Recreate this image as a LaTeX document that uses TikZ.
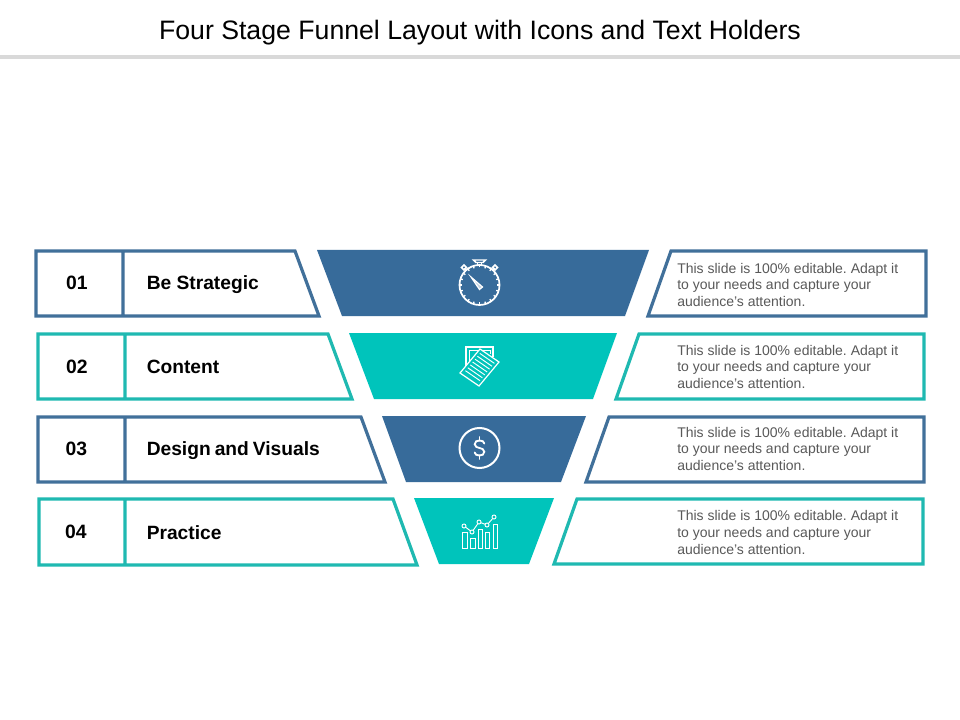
\documentclass[tikz,border=0pt]{standalone}
\usepackage{fontspec}
\setmainfont{Liberation Sans}
\usetikzlibrary{calc}
\definecolor{bluefill}{HTML}{376B9A}
\definecolor{blueline}{HTML}{41709A}
\definecolor{tealfill}{HTML}{00C4BB}
\definecolor{tealline}{HTML}{1FB9B1}
\definecolor{bodygrey}{HTML}{595959}
\definecolor{rulegrey}{HTML}{D9D9D9}
\tikzset{
  outline/.style={draw=#1,line width=2.4pt,fill=white,line join=miter},
  funnelpart/.style={fill=#1,draw=none},
  numlabel/.style={font=\fontsize{14.5pt}{16pt}\selectfont\bfseries,text=black,inner sep=0pt,anchor=base},
  namelabel/.style={font=\fontsize{14.4pt}{16pt}\selectfont\bfseries,text=black,inner sep=0pt,anchor=base west},
  bodytext/.style={font=\fontsize{10.5pt}{12.4pt}\selectfont,text=bodygrey,inner sep=0pt,anchor=west,align=left},
  icon/.style={draw=white,line width=#1,fill=none},
  icon/.default=0.9pt
}
\newcommand{\bodycopy}{\frenchspacing This slide is 100\% editable. Adapt it\\to your needs and capture your\\audience's attention.}
\begin{document}
\begin{tikzpicture}[x=0.75pt,y=-0.75pt]
\useasboundingbox (0,0) rectangle (960,720);
\fill[white] (0,0) rectangle (960,720);
\node[font=\fontsize{20pt}{24pt}\selectfont,text=black,inner sep=0pt,anchor=base] (title) at (480,39.3) {Four Stage Funnel Layout with Icons and Text Holders};
\fill[rulegrey] (0,55) rectangle (960,59);

% left holders
\draw[outline=blueline] (36,251) -- (295,251) -- (319,316) -- (36,316) -- cycle (123,251) -- (123,316);
\draw[outline=tealline] (38,334) -- (328,334) -- (352,399) -- (38,399) -- cycle (125,334) -- (125,399);
\draw[outline=blueline] (38,417) -- (361,417) -- (385,482) -- (38,482) -- cycle (125,417) -- (125,482);
\draw[outline=tealline] (39,499) -- (393,499) -- (417,565) -- (39,565) -- cycle (125,499) -- (125,565);

% funnel
\fill[funnelpart=bluefill] (317,250) -- (649,250) -- (625,316) -- (342,316) -- cycle;
\fill[funnelpart=tealfill] (349,333) -- (617,333) -- (593,399) -- (374,399) -- cycle;
\fill[funnelpart=bluefill] (382,416) -- (586,416) -- (561,482) -- (406,482) -- cycle;
\fill[funnelpart=tealfill] (414,498) -- (554,498) -- (529,564) -- (439,564) -- cycle;

% right holders
\draw[outline=blueline] (671,251) -- (926,251) -- (926,316) -- (648,316) -- cycle;
\draw[outline=tealline] (639,334) -- (924,334) -- (924,399) -- (616,399) -- cycle;
\draw[outline=blueline] (609,417) -- (924,417) -- (924,482) -- (586,482) -- cycle;
\draw[outline=tealline] (577,499) -- (923,499) -- (923,564) -- (554,564) -- cycle;

% labels
\node[numlabel] (n1) at (77,290) {01};
\node[numlabel] (n2) at (77,373) {02};
\node[numlabel] (n3) at (76.5,455) {03};
\node[numlabel] (n4) at (76,538.7) {04};
\node[namelabel] (l1) at (146.5,290) {Be Strategic};
\node[namelabel] (l2) at (146.5,373) {Content};
\node[namelabel] (l3) at (146.5,455.3) {\spaceskip=3pt Design and Visuals};
\node[namelabel] (l4) at (146.5,539.3) {Practice};
\node[bodytext] (t1) at (677,284.8) {\bodycopy};
\node[bodytext] (t2) at (677,366.8) {\bodycopy};
\node[bodytext] (t3) at (677,448.8) {\bodycopy};
\node[bodytext] (t4) at (677,532.5) {\bodycopy};

% stopwatch icon
\begin{scope}[shift={(479.5,285)}]
  \draw[icon=1.3pt] (0,0) circle (20);
  \foreach \a in {0,18,...,342} \draw[icon=1pt] (\a:17.5) -- (\a:20);
  \draw[icon=0.9pt,fill=white!70!bluefill] (-8.5,-8) -- (3,2) -- (0,4.5) -- cycle;
  \draw[icon=1.2pt] (-2,-20) -- (-2,-23) (2,-20) -- (2,-23);
  \draw[icon=1.1pt] (-6,-25) -- (6,-25) -- (3.5,-22.5) -- (-3.5,-22.5) -- cycle;
  \draw[icon=1.2pt] (-13,-15) -- (-15,-17) (13,-15) -- (15,-17);
  \draw[icon=1.1pt] (-18,-17.5) -- (-15.5,-20) -- (-13,-17.5) -- (-15.5,-15) -- cycle;
  \draw[icon=1.1pt] (18,-17.5) -- (15.5,-20) -- (13,-17.5) -- (15.5,-15) -- cycle;
\end{scope}

% document icon
\draw[icon=0.9pt] (466,370) -- (466,347) -- (493,347) -- (493,357);
\draw[icon=0.6pt] (469,362) -- (469,350) -- (490,350) -- (490,354);
\coordinate (da) at (480,349);
\coordinate (db) at (499,362);
\coordinate (dc) at (479,386);
\coordinate (dd) at (460,373);
\draw[icon=0.9pt,fill=tealfill] (da) -- (db) -- (dc) -- (dd) -- cycle;
\foreach \t in {0.12,0.24,...,0.9}
  \draw[icon=0.7pt] ($(da)!\t!(dd)+(2.2,1.5)$) -- ($(db)!\t!(dc)+(-2.2,-1.5)$);

% dollar icon
\begin{scope}[shift={(479.5,448)}]
  \draw[icon=1.5pt] (0,0) circle (20);
  \draw[icon=1.4pt,line cap=round] (4.8,-4.5) .. controls (4.8,-6.5) and (2.5,-7.5) .. (0,-7.5) .. controls (-2.5,-7.5) and (-4.8,-6.5) .. (-4.8,-3.8) .. controls (-4.8,-1) and (-2,-0.5) .. (0,0) .. controls (2,0.5) and (4.8,1) .. (4.8,3.8) .. controls (4.8,6.5) and (2.5,7.5) .. (0,7.5) .. controls (-2.5,7.5) and (-4.8,6.5) .. (-4.8,4.5);
  \draw[icon=1.4pt,line cap=round] (0,-11) -- (0,-7.5) (0,7.5) -- (0,11);
\end{scope}

% chart icon
\foreach \xa/\xb/\ytop in {462/467/532,470/475/538,478/482/529,485/489/532,493/497/524}
  \draw[icon=0.7pt] (\xa,548) rectangle (\xb,\ytop);
\draw[icon=0.7pt] (464,526) -- (472,532) -- (479,522) -- (487,525) -- (494,517);
\foreach \px/\py in {464/526,472/532,479/522,487/525,494/517}
  \draw[icon=0.7pt,fill=tealfill] (\px,\py) circle (2);
\end{tikzpicture}
\end{document}
